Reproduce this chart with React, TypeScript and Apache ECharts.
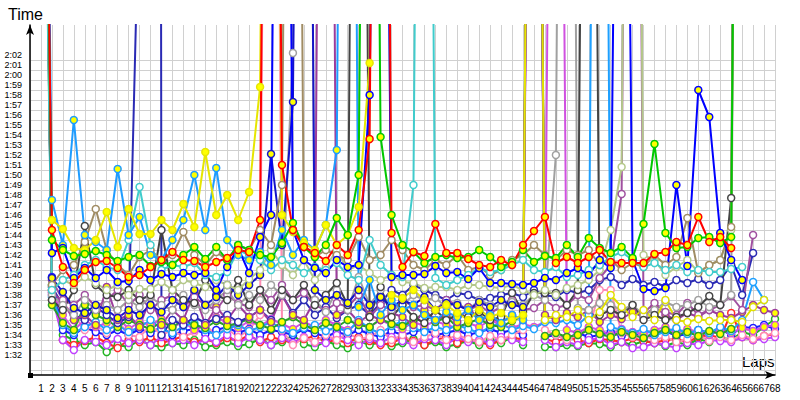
import React, { useEffect, useRef } from "react";
import * as echarts from "echarts";

// Lap numbers (x axis)
const laps: number[] = Array.from({ length: 68 }, (_, i) => i + 1);

// Lap times in seconds; values above the axis range are pit laps / lap 1 (drawn off-chart)
const redY = [
  190, 104.5, 100.8, 99.2, 100.5, 101.3, 101.4, 100.7, 99.8, 100.0,
  100.8, 101.5, 102.3, 101.5, 101.4, 100.8, 101.3, 101.7, 102.5, 102.3,
  105.5, 250, 111.0, 104.5, 102.8, 102.2, 101.4, 103.0, 102.0, 104.5,
  113.6, 250, 104.2, 100.8, 102.3, 101.9, 105.1, 102.2, 102.2, 101.6,
  101.0, 100.8, 101.5, 101.0, 103.0, 104.4, 105.8, 101.2, 101.8, 101.2,
  101.8, 102.5, 101.3, 101.2, 101.2, 101.2, 102.1, 102.3, 103.3, 103.0,
  105.8, 103.3, 103.8, 102.7, null, null, null, null,
];
const greenY = [
  185, 103.5, 102.5, 101.9, 102.1, 102.4, 102.0, 101.4, 101.8, 102.0,
  100.9, 101.3, 101.0, 102.0, 102.8, 101.6, 102.8, 101.5, 103.0, 102.5,
  102.0, 101.8, 103.2, 105.2, 102.8, 101.8, 103.0, 105.7, 104.0, 110.0,
  240, 113.8, 106.0, 103.0, 102.3, 101.2, 101.8, 102.0, 101.7, 101.8,
  102.5, 101.8, 100.8, 101.3, 102.5, 101.3, 101.9, 101.7, 103.0, 101.8,
  103.7, 102.7, 102.2, 102.8, 101.7, 105.1, 113.1, 104.2, 102.7, 102.8,
  103.7, 103.8, 103.2, 103.8, 250, null, null, null,
];
const blueY = [
  195, 102.2, 102.7, 99.7, 100.7, 99.7, 100.5, 99.3, 99.4, 100.5,
  99.5, 100.1, 99.8, 100.2, 100.0, 100.2, 98.5, 100.8, 102.7, 100.2,
  103.8, 106.0, 240, 104.5, 101.5, 100.7, 100.2, 101.5, 100.8, 101.0,
  118.0, 220, 99.8, 100.0, 100.0, 100.1, 100.9, 100.2, 100.3, 99.6,
  100.7, 99.2, 99.2, 99.1, 99.0, 99.2, 99.7, 99.5, 100.2, 100.7,
  100.0, 101.5, 100.7, 210, 101.5, 98.6, 98.4, 98.7, 109.0, 100.9,
  118.5, 115.8, 104.2, 101.5, 99.5, null, null, null,
];
const yellowY = [
  175, 105.5, 104.6, 102.7, 102.5, 103.5, 106.3, 102.8, 106.6, 104.1,
  104.1, 105.5, 104.5, 107.1, 104.8, 112.3, 106.0, 108.0, 105.5, 108.3,
  118.8, 250, 106.0, 104.3, 103.2, 102.5, 105.0, 103.0, 104.0, 106.8,
  121.2, 240, 98.0, 97.7, 98.5, 97.5, 96.5, 97.0, 96.2, 95.5,
  96.5, 95.8, 96.2, 95.5, 96.0, 230, null, null, null, null,
  null, null, null, null, null, null, null, null, null, null,
  null, null, null, null, null, null, null, null,
];
const ltBlueY = [
  200, 107.5, 103.0, 115.5, 104.0, 103.3, 102.5, 110.6, 104.0, 105.8,
  102.0, 101.5, 103.5, 105.5, 110.0, 104.5, 110.7, 103.5, 102.0, 101.5,
  102.3, 101.0, 104.5, 102.0, 103.5, 102.5, 105.0, 112.5, 260, 96.8,
  99.5, 96.0, 97.5, 96.5, 97.0, 96.0, 95.5, 96.3, 95.8, 96.5,
  95.5, 96.0, 95.2, 96.0, 95.5, null, null, null, null, null,
  null, null, null, null, null, null, null, null, null, null,
  null, null, null, null, null, null, null, null,
];
const cyanW = [
  170, 98.5, 99.5, 100.0, 101.0, 101.5, 100.8, 100.5, 103.5, 108.8,
  103.0, 100.5, 101.0, 100.8, 101.2, 100.0, 99.8, 100.3, 102.5, 102.0,
  101.5, 100.5, 101.5, 101.0, 100.2, 100.8, 100.5, 101.2, 100.0, 99.5,
  103.5, 101.0, 100.0, 99.8, 109.0, 250, 99.7, 99.0, 99.5, 100.0,
  100.7, 100.3, 100.5, 101.0, 101.5, 100.5, 100.3, 100.8, 99.8, 100.0,
  100.5, 101.0, 101.8, 102.3, 101.5, 100.8, 101.2, 100.5, 101.0, 100.3,
  100.5, 100.3, 100.3, 100.6, 100.8, null, null, null,
];
const oliveW = [
  180, 99.0, 100.5, 101.0, 103.3, 106.6, 102.5, 101.0, 100.0, 101.8,
  102.5, 101.5, 102.0, 104.3, 102.0, 101.0, 102.3, 101.5, 103.0, 102.5,
  104.5, 103.0, 109.0, 250, 103.0, 101.8, 102.5, 102.0, 101.5, 103.8,
  101.5, 102.0, 103.5, 102.5, 101.0, 100.5, 101.5, 101.0, 102.0, 100.5,
  100.8, 100.0, 100.5, 101.5, 102.0, 103.0, 102.0, 101.5, 102.5, 102.0,
  102.5, 101.0, 101.5, 100.5, 101.2, 100.8, 102.0, 101.0, 101.8, 105.7,
  100.2, 101.0, 101.5, 104.8, 250, null, null, null,
];
const lightOliveW = [
  175, 98.5, 99.5, 99.0, 99.8, 99.2, 98.5, 99.0, 98.0, 98.6,
  98.6, 99.3, 98.5, 99.5, 99.2, 98.8, 99.5, 99.0, 98.5, 99.6,
  100.5, 102.5, 101.0, 100.0, 101.5, 99.5, 100.8, 102.5, 100.5, 101.0,
  100.2, 99.5, 100.0, 99.3, 99.2, 98.7, 98.8, 98.8, 98.5, 99.0,
  99.0, 98.8, 98.7, 99.0, 98.5, 98.0, 98.5, 98.0, 98.7, 99.0,
  99.5, 100.5, 104.5, 110.8, 250, 102.0, 101.5, 100.0, 100.8, 101.5,
  100.3, 101.0, 101.5, 104.5, 250, null, null, null,
];
const darkGrayW = [
  185, 97.5, 96.5, 98.5, 104.9, 99.0, 98.0, 97.8, 98.5, 97.5,
  98.0, 104.5, 98.5, 97.5, 97.2, 99.5, 98.0, 97.5, 99.5, 97.0,
  98.5, 96.5, 98.5, 97.5, 99.0, 97.0, 98.0, 99.2, 97.0, 250,
  95.8, 98.8, 95.8, 97.0, 95.8, 95.2, 96.5, 95.5, 96.0, 95.8,
  96.3, 95.5, 95.8, 98.2, 96.3, 98.2, 98.2, 98.2, 97.0, 98.5,
  230, 96.0, 96.5, 96.0, 97.0, 95.5, 96.0, 95.5, 95.8, 96.2,
  96.8, 97.9, 97.0, 107.7, 250, null, null, null,
];
const grayW = [
  190, 98.0, 97.0, 96.0, 97.5, 96.5, 97.0, 96.5, 97.5, 96.8,
  97.8, 97.0, 96.5, 98.0, 97.0, 96.5, 97.5, 98.5, 97.0, 98.0,
  97.5, 99.0, 98.0, 122.2, 250, 97.5, 96.3, 98.5, 96.5, 99.8,
  97.0, 98.5, 96.5, 97.0, 98.0, 97.5, 97.7, 96.8, 97.2, 96.5,
  97.5, 97.0, 96.8, 97.3, 97.0, 98.0, 97.5, 112.0, 260, 96.7,
  96.5, 97.2, 97.0, 96.5, 97.0, 96.0, 96.5, 97.3, 96.8, 97.0,
  97.5, 96.8, 97.0, 98.0, 260, null, null, null,
];
const purpleY = [
  180, 98.3, 97.3, 95.5, 96.0, 95.0, 98.8, 95.5, 96.0, 94.8,
  97.8, 95.0, 96.5, 95.5, 98.3, 95.0, 96.8, 95.5, 97.0, 95.8,
  96.5, 95.3, 98.0, 96.0, 95.5, 97.5, 250, 96.0, 96.5, 95.3,
  96.0, 95.5, 96.2, 95.8, 95.0, 96.5, 95.5, 96.0, 95.3, 96.8,
  95.5, 95.8, 95.2, 96.0, 95.5, 230, 96.0, 95.5, 96.2, 95.8,
  96.5, 95.3, 96.0, 95.6, 96.3, 95.8, 96.8, 96.0, 95.5, 96.2,
  95.8, 96.5, 96.0, 95.7, 96.3, 97.0, 96.5, 96.2,
];
const purpleW = [
  185, 99.5, 97.5, 97.0, 98.0, 96.8, 97.5, 98.5, 97.0, 98.0,
  96.5, 97.5, 98.0, 96.8, 97.8, 97.0, 96.5, 98.0, 97.2, 96.8,
  98.5, 97.5, 99.0, 97.5, 98.2, 97.0, 96.5, 97.2, 96.8, 98.0,
  95.8, 97.0, 96.5, 97.5, 96.8, 97.0, 96.5, 97.5, 97.0, 96.5,
  97.0, 96.2, 96.8, 97.5, 96.5, 96.7, 97.5, 96.7, 97.0, 98.0,
  97.5, 99.7, 101.0, 108.1, 250, 96.2, 97.2, 96.3, 96.0, 97.2,
  96.0, 96.5, 97.0, 97.9, 96.5, 104.0, null, null,
];
const violetW = [
  190, 98.0, 93.5, 92.5, 93.5, 93.3, 93.0, 93.6, 93.2, 93.5,
  93.0, 93.8, 93.2, 93.5, 93.0, 93.6, 93.3, 94.0, 93.2, 93.8,
  93.5, 93.0, 93.7, 93.2, 93.8, 93.2, 93.2, 94.0, 93.5, 93.0,
  93.6, 93.2, 93.8, 93.4, 93.0, 93.6, 93.5, 93.0, 93.8, 93.3,
  93.5, 93.2, 93.8, 93.5, 93.3, 220, 93.5, 92.8, 93.3, 93.0,
  93.5, 93.7, 93.0, 93.3, 92.7, 92.8, 93.2, 93.0, 92.7, 93.2,
  93.0, 93.5, 93.4, 93.3, 93.8, 93.5, 93.6, 93.8,
];
const pinkW = [
  185, 97.5, 97.2, 96.0, 94.5, 95.0, 94.2, 95.5, 94.0, 93.8,
  95.0, 94.0, 94.5, 93.8, 94.3, 95.0, 94.0, 94.6, 93.8, 94.5,
  96.0, 250, 94.5, 93.0, 93.7, 93.3, 94.0, 93.5, 94.2, 93.6,
  93.8, 94.5, 93.5, 94.0, 93.3, 93.8, 94.2, 93.5, 94.0, 93.6,
  93.3, 93.9, 93.5, 94.0, 94.5, 230, 94.5, 94.0, 93.5, 94.0,
  94.5, 98.5, 98.5, 94.2, 93.8, 94.0, 93.5, 93.8, 93.3, 93.6,
  94.0, 93.4, 93.8, 93.5, 94.0, 93.6, 93.9, 94.2,
];
const greenW = [
  180, 99.0, 94.0, 93.5, 93.0, 93.3, 92.3, 93.0, 92.8, 93.5,
  93.0, 92.8, 93.2, 93.0, 93.5, 92.8, 93.0, 93.3, 92.9, 93.1,
  93.6, 93.0, 93.3, 94.0, 93.1, 92.8, 93.4, 93.0, 92.7, 93.4,
  93.0, 93.3, 92.9, 93.2, 93.6, 93.0, 93.3, 92.8, 93.1, 93.4,
  93.0, 93.5, 93.2, 93.8, 93.0, 230, 92.8, 92.8, 93.0, 92.9,
  93.2, 93.1, 92.8, 93.3, 93.0, 93.4, 93.2, 92.9, 93.3, 93.0,
  93.6, 93.3, 93.8, 93.5, 94.3, 94.0, 94.8, 95.6,
];
const redW = [
  175, 98.5, 93.5, 93.0, 93.4, 93.8, 93.2, 92.7, 93.5, 93.3,
  93.8, 93.2, 93.5, 93.9, 93.3, 93.6, 93.2, 93.7, 93.4, 94.0,
  93.3, 93.8, 93.5, 93.2, 93.6, 93.9, 93.3, 93.5, 93.2, 93.8,
  93.4, 93.0, 93.2, 93.7, 93.4, 93.0, 93.5, 93.8, 93.2, 93.6,
  93.3, 93.0, 93.5, 93.8, 93.5, 230, 93.6, 93.3, 93.8, 93.5,
  93.2, 93.6, 93.5, 93.3, 93.7, 93.4, 93.2, 93.5, 93.6, 93.3,
  93.8, 94.0, 93.7, 96.2, 93.8, 93.5, 93.9, 94.1,
];
const blueW = [
  185, 99.8, 94.5, 94.0, 94.8, 94.3, 94.0, 94.5, 94.0, 94.6,
  94.2, 94.8, 94.0, 94.4, 94.6, 94.1, 94.5, 94.8, 94.2, 94.6,
  94.0, 94.5, 94.3, 94.0, 94.6, 94.2, 93.8, 94.3, 94.0, 94.5,
  94.1, 93.8, 94.4, 94.0, 94.3, 94.6, 94.0, 94.2, 94.5, 94.0,
  94.3, 94.6, 94.2, 94.5, 94.0, 230, 93.8, 94.0, 93.6, 94.2,
  93.8, 94.0, 94.3, 93.9, 94.2, 93.7, 94.0, 94.4, 93.9, 94.1,
  94.5, 94.2, 94.6, 94.0, 94.8, 94.7, 95.0, 94.6,
];
const darkBlueY = [
  190, 99.7, 98.3, 96.7, 96.2, 97.0, 96.5, 95.7, 96.5, 96.0,
  97.0, 96.3, 97.5, 96.8, 98.5, 97.0, 97.8, 99.0, 98.0, 99.0,
  100.0, 112.1, 103.0, 117.3, 250, 98.5, 97.5, 98.0, 97.2, 98.5,
  97.0, 97.8, 96.8, 97.5, 97.0, 97.8, 96.5, 97.2, 97.0, 96.5,
  97.3, 96.8, 97.5, 97.0, 96.8, null, null, null, null, null,
  null, null, null, null, null, null, null, null, null, null,
  null, null, null, null, null, null, null, null,
];
const darkBlueW = [
  180, 98.8, 97.0, 96.0, 95.5, 96.8, 96.0, 95.2, 95.8, 140,
  1000, 94.0, 95.5, 95.0, 95.8, 95.2, 95.6, 96.0, 95.3, 95.8,
  96.5, 95.5, 98.0, 96.2, 97.5, 96.0, 96.8, 95.7, 96.5, 97.0,
  96.0, 97.2, 98.5, 98.0, 99.0, 98.5, 98.0, 97.5, 98.2, 98.0,
  97.5, 97.7, 98.0, 98.2, 97.8, 98.5, 98.0, 97.8, 98.5, 98.2,
  98.5, 99.5, 99.8, 99.0, 99.6, 99.0, 99.3, 98.8, 99.5, 99.2,
  99.6, 99.0, 99.5, 101.0, 98.0, 102.2, null, null,
];
const greenY2 = [
  185, 97.0, 95.2, 94.5, 97.0, 96.0, 95.5, 94.8, 95.5, 95.0,
  94.6, 95.3, 94.8, 95.5, 95.0, 94.7, 95.4, 94.9, 95.2, 95.6,
  95.0, 94.6, 95.3, 95.8, 95.0, 94.5, 95.2, 94.8, 95.5, 95.0,
  94.8, 95.6, 95.1, 94.9, 95.5, 96.2, 95.3, 95.8, 94.8, 95.2,
  95.6, 95.0, 94.8, 95.4, 95.9, 230, 93.9, 94.2, 93.8, 94.0,
  94.5, 94.1, 93.8, 94.3, 94.0, 93.7, 94.2, 94.5, 94.0, 94.3,
  93.9, 94.4, 94.1, 94.6, null, null, null, null,
];
const yellowW = [
  null, null, null, null, null, null, null, null, null, null,
  null, null, null, null, null, null, null, null, null, null,
  null, null, null, null, null, null, null, null, null, null,
  null, null, null, null, null, null, null, null, null, null,
  null, null, null, null, null, 230, 95.5, 96.0, 95.8, 96.5,
  95.5, 96.3, 98.0, 96.8, 95.8, 96.5, 95.5, 97.5, 95.5, 95.3,
  95.6, 95.4, 95.5, 95.5, 95.3, 96.8, 97.5, null,
];
const ltBlueW = [
  175, 97.8, 95.0, 94.2, 94.8, 95.3, 94.5, 95.0, 94.3, 94.8,
  95.5, 94.6, 94.2, 94.9, 95.2, 94.5, 94.0, 94.6, 95.0, 94.4,
  94.8, 95.3, 94.6, 94.2, 94.7, 95.0, 94.4, 94.8, 94.3, 95.5,
  94.6, 94.2, 94.9, 95.4, 94.7, 94.3, 94.8, 94.5, 95.0, 94.6,
  94.2, 94.8, 95.2, 94.5, 94.9, 94.6, 95.3, 95.2, 95.5, 95.0,
  96.0, 250, 94.8, 94.5, 94.2, 94.6, 94.0, 94.3, 94.7, 94.1,
  94.5, 94.2, 94.8, 94.4, 95.5, 99.3, 97.5, null,
];
const magentaY = [
  180, 98.2, 96.0, 94.5, 95.5, 94.8, 95.2, 95.8, 94.6, 95.3,
  95.0, 95.6, 94.8, 95.3, 94.5, 95.0, 95.8, 95.2, 94.7, 95.4,
  94.9, 95.6, 95.1, 94.6, 95.3, 94.8, 95.5, 95.0, 94.5, 95.2,
  94.8, 95.5, 95.0, 94.6, 95.3, 94.9, 95.4, 95.0, 94.7, 95.2,
  94.8, 95.5, 95.0, 94.7, 95.1, 94.8, 95.3, 230, 94.5, 94.2,
  94.8, 94.5, 94.0, 94.6, 94.3, 94.1, 94.5, 94.8, 94.2, 94.6,
  94.3, 94.0, 94.5, 94.2, 94.7, 94.4, 94.8, 95.0,
];

const YELLOW = "#ffff00";
const WHITE = "#ffffff";

// drawing order: bottom group first, upper-band series last (on top)
const seriesDefs = [
  { name: "greenW", color: "#22b422", fill: WHITE, data: greenW },
  { name: "redW", color: "#ff2a2a", fill: WHITE, data: redW },
  { name: "blueW", color: "#1a1aff", fill: WHITE, data: blueW },
  { name: "violetW", color: "#c040ff", fill: WHITE, data: violetW },
  { name: "pinkW", color: "#ff8cb4", fill: WHITE, data: pinkW },
  { name: "magentaY", color: "#d050e0", fill: YELLOW, data: magentaY },
  { name: "ltBlueW", color: "#1ea0ff", fill: WHITE, data: ltBlueW },
  { name: "greenY2", color: "#28a028", fill: YELLOW, data: greenY2 },
  { name: "darkBlueW", color: "#2a2ab4", fill: WHITE, data: darkBlueW },
  { name: "purpleY", color: "#9c3c9c", fill: YELLOW, data: purpleY },
  { name: "purpleW", color: "#a050a0", fill: WHITE, data: purpleW },
  { name: "grayW", color: "#a0a0a0", fill: WHITE, data: grayW },
  { name: "darkGrayW", color: "#444444", fill: WHITE, data: darkGrayW },
  { name: "yellowW", color: "#e0e000", fill: WHITE, data: yellowW },
  { name: "darkBlueY", color: "#1414c8", fill: YELLOW, data: darkBlueY },
  { name: "lightOliveW", color: "#b4c88a", fill: WHITE, data: lightOliveW },
  { name: "oliveW", color: "#a08c64", fill: WHITE, data: oliveW },
  { name: "cyanW", color: "#40cccc", fill: WHITE, data: cyanW },
  { name: "ltBlueY", color: "#1e9cff", fill: YELLOW, data: ltBlueY },
  { name: "yellowY", color: "#e6e600", fill: YELLOW, data: yellowY },
  { name: "blueY", color: "#0000ff", fill: YELLOW, data: blueY },
  { name: "greenY", color: "#00c800", fill: YELLOW, data: greenY },
  { name: "redY", color: "#ff0000", fill: YELLOW, data: redY },
];

const fmtTime = (v: number) => {
  const m = Math.floor(v / 60);
  const s = Math.round(v - m * 60);
  return `${m}:${String(s).padStart(2, "0")}`;
};

const FONT = "Liberation Sans";

export default function App() {
  const ref = useRef<HTMLDivElement>(null);
  useEffect(() => {
    if (!ref.current) return;
    const chart = echarts.init(ref.current, undefined, { renderer: "svg" });
    const series = seriesDefs.map((s) => ({
      name: s.name,
      type: "line",
      xAxisIndex: 0,
      yAxisIndex: 0,
      data: laps.map((l, i) => [l, s.data[i] ?? null]),
      connectNulls: false,
      showAllSymbol: true,
      symbol: "circle",
      symbolSize: 7,
      clip: true,
      lineStyle: { color: s.color, width: 2 },
      itemStyle: { color: s.fill, borderColor: s.color, borderWidth: 1.5 },
      emphasis: { disabled: true },
      z: 3,
    }));
    chart.setOption({
      animation: false,
      grid: [
        { left: 30, right: 25, top: 25, bottom: 25 },
        { left: 30, right: 25, top: 60, bottom: 30 },
      ],
      xAxis: [
        {
          type: "value",
          gridIndex: 0,
          min: 0,
          max: 68,
          interval: 1,
          axisLine: {
            show: true,
            lineStyle: { color: "#000", width: 1.5 },
            symbol: ["none", "arrow"],
            symbolSize: [6, 10],
          },
          axisTick: { show: false },
          axisLabel: {
            formatter: (v: number) => (v >= 1 && v <= 68 ? String(v) : ""),
            fontSize: 10,
            fontFamily: FONT,
            color: "#000",
            margin: 8,
          },
          splitLine: { show: true, lineStyle: { color: "#d0d0d0", width: 1 } },
        },
        { type: "value", gridIndex: 1, min: 0, max: 68, show: false },
      ],
      yAxis: [
        {
          type: "value",
          gridIndex: 0,
          min: 90,
          max: 125,
          interval: 1,
          axisLine: {
            show: true,
            lineStyle: { color: "#000", width: 1.5 },
            symbol: ["none", "arrow"],
            symbolSize: [6, 10],
          },
          axisTick: { show: false },
          axisLabel: {
            formatter: (v: number) => (v >= 92 && v <= 122 ? fmtTime(v) : ""),
            fontSize: 9,
            fontFamily: FONT,
            color: "#000",
            margin: 8,
          },
          splitLine: { show: false },
        },
        {
          type: "value",
          gridIndex: 1,
          min: 0,
          max: 31,
          interval: 1,
          axisLine: { show: false },
          axisTick: { show: false },
          axisLabel: { show: false },
          splitLine: { show: true, lineStyle: { color: "#d0d0d0", width: 1 } },
        },
      ],
      graphic: [
        {
          type: "text",
          left: 8,
          top: 6,
          style: { text: "Time", font: `16px "${FONT}"`, fill: "#000" },
        },
        {
          type: "text",
          left: 742,
          top: 354,
          style: { text: "Laps", font: `15px "${FONT}"`, fill: "#000" },
        },
        {
          type: "rect",
          left: 28,
          top: 373,
          shape: { width: 5, height: 5 },
          style: { fill: "#000" },
          z: 10,
        },
      ],
      series,
    });
    return () => chart.dispose();
  }, []);
  return (
    <div
      ref={ref}
      style={{ position: "absolute", left: 0, top: 0, width: 800, height: 400 }}
    />
  );
}
